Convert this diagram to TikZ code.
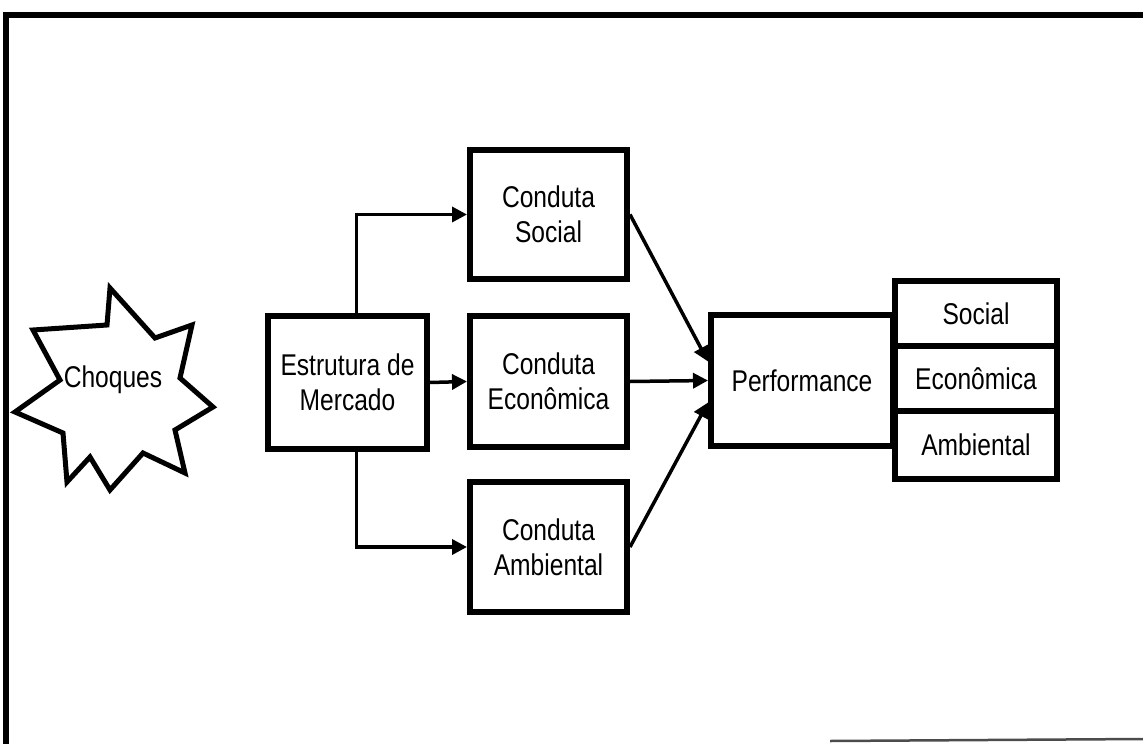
\documentclass[tikz,border=0pt]{standalone}
\usepackage{fontspec}
\setmainfont{Liberation Sans}[FakeStretch=0.82]
\usetikzlibrary{arrows.meta}
\begin{document}
\begin{tikzpicture}[x=1pt,y=-1pt,
  txt/.style={font=\fontsize{30}{35}\selectfont, align=center},
  box/.style={txt, draw, line width=6pt, inner sep=0pt},
  conn/.style={line width=3.5pt, -{Triangle[length=15pt,width=15pt]}},
  frame/.style={line width=6pt}]
\useasboundingbox (0,0) rectangle (1143,744);
% frame
\draw[frame] (6,744) -- (6,15) -- (1143,15);
\draw[line width=2.5pt, black!70] (830,741) -- (1143,739);
% star
\draw[line width=5pt, line join=miter, fill=white]
  (110,288) -- (155,338) -- (192,325) -- (180,378) -- (213,407) -- (175,430)
  -- (185,473) -- (143,453) -- (110,490) -- (90,457) -- (67,482) -- (63,433)
  -- (15,412) -- (60,380) -- (33,330) -- (107,325) -- cycle;
\node[txt] (choq) at (113,380) {Choques};
% boxes
\node[box, minimum width=159pt, minimum height=133pt] (est) at (347.5,382.5) {Estrutura de\\Mercado};
\node[box, minimum width=157pt, minimum height=129pt] (cs) at (548.5,214.5) {Conduta\\Social};
\node[box, minimum width=157pt, minimum height=131pt] (ce) at (548.5,381.5) {Conduta\\Econômica};
\node[box, minimum width=157pt, minimum height=130pt] (ca) at (548.5,547) {Conduta\\Ambiental};
\node[box, minimum width=182pt, minimum height=131pt] (perf) at (802,380.5) {Performance};
\node[box, minimum width=162pt, minimum height=65pt] (ss) at (976,313.5) {Social};
\node[box, minimum width=162pt, minimum height=65pt] (se) at (976,378.5) {Econômica};
\node[box, minimum width=162pt, minimum height=68pt] (sa) at (976,445) {Ambiental};
% connectors
\draw[conn] (est.north) ++(9,0) |- (cs.west);
\draw[conn] (est.east) -- (ce.west);
\draw[conn] (est.south) ++(9,0) |- (ca.west);
\draw[conn] (cs.east) -- ([yshift=19pt]perf.west);
\draw[conn] (ce.east) -- (perf.west);
\draw[conn] (ca.east) -- ([yshift=-22pt]perf.west);
\end{tikzpicture}
\end{document}
